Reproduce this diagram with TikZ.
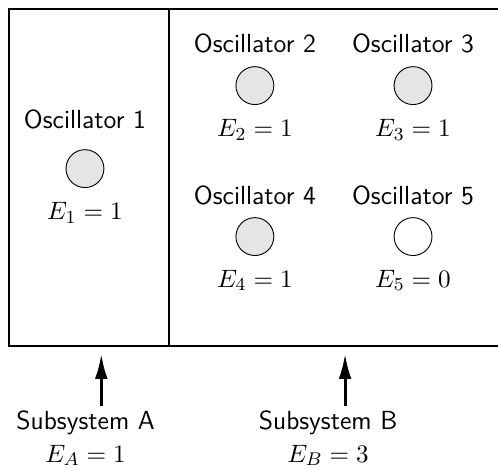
\documentclass[tikz,border=0pt]{standalone}
\usepackage{amsmath}
\usepackage{tikz}
\usetikzlibrary{arrows.meta, positioning}

\begin{document}
\begin{tikzpicture}[
  every node/.style={font=\fontsize{11.4pt}{14pt}\selectfont},
  osc/.style={circle, draw=black, fill=gray!20, minimum size=0.58cm, inner sep=0pt},
  empty/.style={circle, draw=black, fill=white, minimum size=0.58cm, inner sep=0pt},
  lbl/.style={font=\fontsize{11.4pt}{14pt}\selectfont\sffamily},
  pointer/.style={-{Latex[length=11pt, width=5.5pt]}, line width=1.3pt}
]
  \useasboundingbox (-0.14, -1.89) rectangle (7.48, 5.29);

  % Box and divider
  \draw[thick] (7.6, 0) -- (0, 0) -- (0, 5.15) -- (7.6, 5.15);
  \draw[thick] (2.45, 0) -- (2.45, 5.15);

  % Subsystem A
  \node[osc] (O1) at (1.16, 2.71) {};
  \node[lbl] (L1) at (1.16, 3.47) {Oscillator 1};
  \node (E1) at (1.16, 2.03) {$E_1 = 1$};

  % Subsystem B
  \node[osc] (O2) at (3.76, 3.98) {};
  \node[lbl] (L2) at (3.76, 4.62) {Oscillator 2};
  \node (E2) at (3.76, 3.30) {$E_2 = 1$};

  \node[osc] (O3) at (6.18, 3.98) {};
  \node[lbl] (L3) at (6.18, 4.62) {Oscillator 3};
  \node (E3) at (6.18, 3.30) {$E_3 = 1$};

  \node[osc] (O4) at (3.76, 1.67) {};
  \node[lbl] (L4) at (3.76, 2.30) {Oscillator 4};
  \node (E4) at (3.76, 1.00) {$E_4 = 1$};

  \node[empty] (O5) at (6.18, 1.67) {};
  \node[lbl] (L5) at (6.18, 2.30) {Oscillator 5};
  \node (E5) at (6.18, 1.00) {$E_5 = 0$};

  % Labels below
  \node[lbl, align=center, inner sep=1pt] (SA) at (1.17, -1.42) {Subsystem A\\ $E_A = 1$};
  \node[lbl, align=center, inner sep=1pt] (SB) at (4.88, -1.42) {Subsystem B\\ $E_B = 3$};
  \coordinate (TA) at (1.41, -0.12);
  \coordinate (TB) at (5.14, -0.12);
  \draw[pointer] ([yshift=1pt]SA.north -| TA) -- (TA);
  \draw[pointer] ([yshift=1pt]SB.north -| TB) -- (TB);
\end{tikzpicture}
\end{document}
